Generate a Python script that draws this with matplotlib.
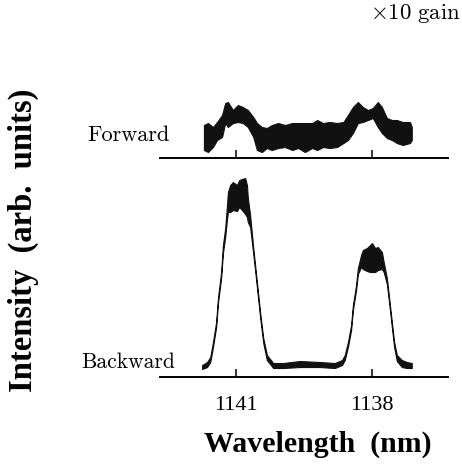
import numpy as np
import matplotlib
matplotlib.use("Agg")
import matplotlib.pyplot as plt

plt.rcParams['mathtext.fontset'] = 'cm'

# ---- data (wavelength in nm, intensity in arb. units) ----
fwd_wl = [1141.71, 1141.62, 1141.51, 1141.42, 1141.31, 1141.24, 1141.18, 1141.07,
          1140.96, 1140.85, 1140.74, 1140.62, 1140.54, 1140.43, 1140.32, 1140.21,
          1140.07, 1139.92, 1139.76, 1139.63, 1139.48, 1139.32, 1139.21, 1139.08,
          1138.93, 1138.77, 1138.63, 1138.53, 1138.42, 1138.31, 1138.20, 1138.09,
          1137.98, 1137.87, 1137.78, 1137.67, 1137.56, 1137.45, 1137.32, 1137.16,
          1137.12]
fwd_hi = [33, 35, 31, 36, 43, 55, 56, 48, 53, 51, 48, 41, 35, 31, 30, 33, 35, 33,
          35, 35, 35, 35, 38, 35, 36, 35, 36, 43, 51, 56, 51, 48, 50, 56, 51, 40,
          38, 38, 36, 36, 31]
fwd_lo = [8, 6, 11, 18, 21, 35, 31, 35, 36, 35, 31, 21, 8, 6, 10, 8, 10, 11,
          8, 10, 6, 10, 8, 11, 10, 11, 15, 18, 25, 35, 36, 38, 40, 31, 25, 20,
          18, 15, 13, 15, 18]

bwd_wl = [1141.75, 1141.64, 1141.57, 1141.51, 1141.44, 1141.40, 1141.33, 1141.29,
          1141.24, 1141.20, 1141.18, 1141.13, 1141.07, 1140.98, 1140.93, 1140.87,
          1140.80, 1140.76, 1140.74, 1140.69, 1140.62, 1140.54, 1140.47, 1140.40,
          1140.32, 1140.18, 1139.96, 1139.59, 1139.15, 1138.82, 1138.66, 1138.60,
          1138.53, 1138.46, 1138.42, 1138.35, 1138.31, 1138.24, 1138.20, 1138.11,
          1138.04, 1138.00, 1137.93, 1137.87, 1137.78, 1137.74, 1137.67, 1137.62,
          1137.56, 1137.51, 1137.45, 1137.34, 1137.23, 1137.12]
bwd_hi = [12, 15, 20, 35, 55, 79, 105, 132, 149, 172, 185, 192, 195, 192, 197, 198,
          199, 192, 179, 162, 129, 95, 65, 39, 22, 14, 14, 16, 15, 14, 17, 22,
          35, 52, 72, 92, 109, 122, 127, 129, 132, 134, 129, 130, 125, 115, 99, 79,
          55, 35, 22, 17, 15, 14]
bwd_lo = [8, 10, 15, 30, 50, 74, 99, 124, 140, 158, 165, 165, 167, 166, 170, 167,
          163, 160, 155, 150, 123, 90, 60, 34, 17, 9, 9, 10, 10, 9, 12, 17,
          30, 47, 67, 87, 103, 110, 108, 106, 105, 105, 105, 107, 108, 105, 93, 74,
          50, 30, 16, 10, 9, 9]

tick_wl = [1141, 1138]
tick_lab = ['1141', '1138']
xlim = (1142.68, 1136.32)

SERIF = 'Liberation Serif'

fig = plt.figure(figsize=(4.62, 4.65), dpi=100)
ax_f = fig.add_axes([0.3463, 0.6602, 0.6234, 0.1505])
ax_b = fig.add_axes([0.3463, 0.1892, 0.6234, 0.4516])

for ax, wl, hi, lo, top in ((ax_f, fwd_wl, fwd_hi, fwd_lo, 70),
                            (ax_b, bwd_wl, bwd_hi, bwd_lo, 210)):
    ax.fill_between(wl, lo, hi, color='#111111', lw=0.8, edgecolor='#111111')
    ax.set_xlim(*xlim)
    ax.set_ylim(0, top)
    ax.patch.set_alpha(0)
    for s in ('top', 'right', 'left'):
        ax.spines[s].set_visible(False)
    ax.spines['bottom'].set_linewidth(1.4)
    ax.set_yticks([])
    ax.set_xticks(tick_wl)
    ax.tick_params(axis='x', direction='in', length=6, width=1.1, pad=14)

ax_f.set_xticklabels([])
ax_b.set_xticklabels(tick_lab, fontfamily=SERIF, fontsize=16)

ax_f.text(0.035, 0.33, 'Forward', transform=ax_f.transAxes, ha='right', va='center',
          fontfamily='cmr10', fontsize=16)
ax_b.text(0.052, 0.071, 'Backward', transform=ax_b.transAxes, ha='right', va='center',
          fontfamily='cmr10', fontsize=15.5)

fig.text(0.998, 0.970, r'$\times 10\ \mathrm{gain}$', ha='right', va='center', fontsize=16.5)
fig.text(0.688, 0.045, 'Wavelength  (nm)', ha='center', va='center',
         fontfamily=SERIF, fontweight='bold', fontsize=21.5)
fig.text(0.050, 0.484, 'Intensity  (arb.  units)', ha='center', va='center', rotation=90,
         fontfamily=SERIF, fontweight='bold', fontsize=23.5)

fig.savefig('out.png', dpi=100)
